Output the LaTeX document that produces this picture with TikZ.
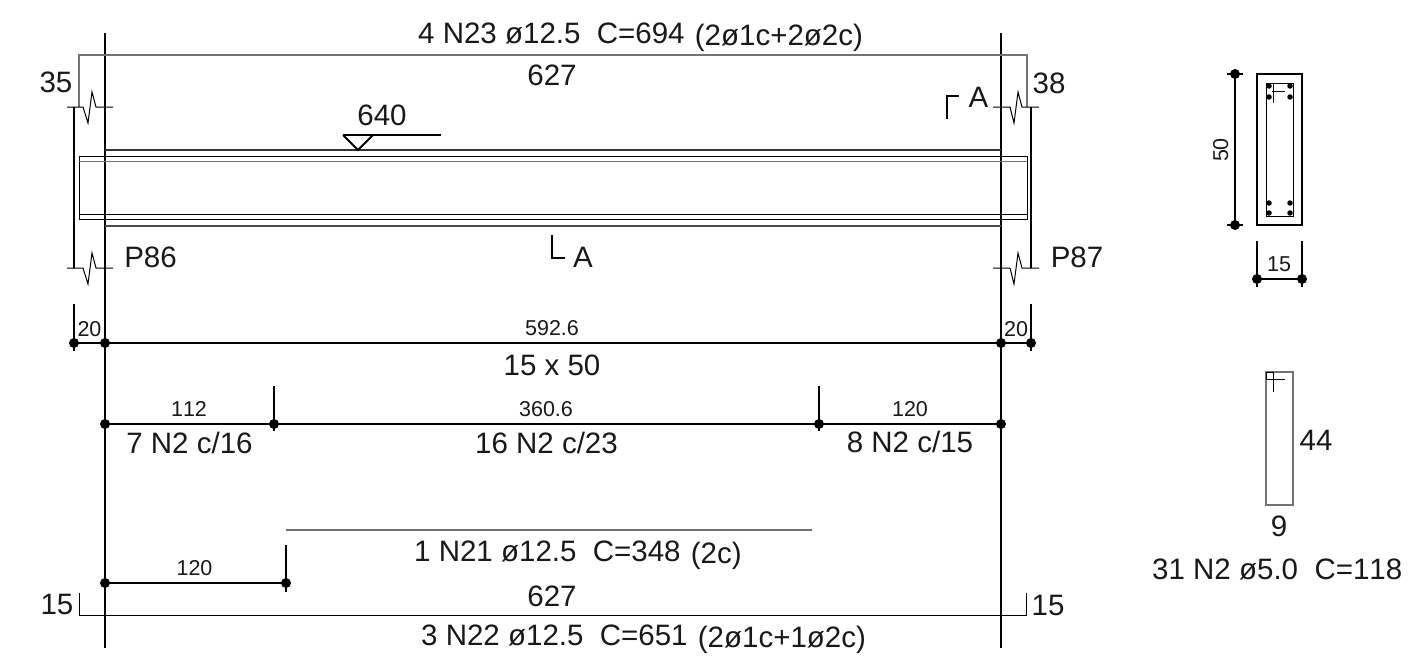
\documentclass[tikz,border=0pt]{standalone}
\usepackage{fontspec}
\setmainfont[Kerning=Off]{Liberation Sans}
\newcommand{\bigf}{\fontsize{29.5}{32}\selectfont}
\newcommand{\smf}{\fontsize{21.5}{24}\selectfont}
\newcommand{\lowpar}[1]{\hspace{2pt}\raisebox{-2pt}{#1}}
\tikzset{
  bk/.style={draw=black,line width=1.6pt},
  thinbk/.style={draw=black,line width=1pt},
  gr/.style={draw=black!55,line width=1.2pt},
  dimpt/.style={circle,fill=black,inner sep=0pt,minimum size=10pt},
  lab/.style={inner sep=0pt,anchor=base,font=\bigf,text=black!90},
  labw/.style={lab,anchor=base west},
  slab/.style={inner sep=0pt,anchor=base,font=\smf,text=black!90}
}
\begin{document}
\begin{tikzpicture}[x=1pt,y=-1pt]
\useasboundingbox (0,0) rectangle (1416,662);
\fill[white] (0,0) rectangle (1416,662);
% column lines
\draw[bk] (105,33) -- (105,648);
\draw[bk] (1001,33) -- (1001,648);
% top bar
\draw[gr] (79,107) -- (79,55) -- (1027,55) -- (1027,107);
% break lines
\draw[thinbk] (67,107) -- (83,107) -- (88,123) -- (92,92) -- (96,107) -- (113,107);
\draw[thinbk] (67,268) -- (83,268) -- (88,284) -- (92,253) -- (96,268) -- (113,268);
\draw[thinbk] (993,107) -- (1010,107) -- (1014,123) -- (1018,92) -- (1022,107) -- (1039,107);
\draw[thinbk] (993,268) -- (1010,268) -- (1014,284) -- (1018,253) -- (1022,268) -- (1039,268);
\draw[bk,line width=1.3pt] (74,107) -- (74,268);
\draw[bk,line width=1.3pt] (1031,107) -- (1031,268);
% beam
\draw[bk,black!80] (105,150) -- (1001,150);
\draw[bk,black!70] (105,226) -- (1001,226);
\draw[thinbk] (79,156) rectangle (1027,219);
\draw[gr,line width=1pt] (79,161) -- (1027,161);
\draw[thinbk] (79,214) -- (1027,214);
% level mark
\draw[bk,line width=2pt] (343,135) -- (441,135);
\draw[bk,line width=2pt] (343,135) -- (358,150) -- (373,135);
% section marks
\draw[bk,line width=2pt] (947,119) -- (947,96) -- (959,96);
\draw[bk,line width=2pt] (552,235) -- (552,258) -- (565,258);
% overall dimension
\coordinate (d0) at (74,343);
\coordinate (d1) at (105,343);
\coordinate (d2) at (1001,343);
\coordinate (d3) at (1031,343);
\draw[bk] (74,304) -- (74,351);
\draw[bk] (1031,304) -- (1031,351);
\draw[bk] (d0) -- (d3);
\foreach \p in {d0,d1,d2,d3} \node[dimpt] at (\p) {};
% stirrup dimension
\coordinate (s0) at (105,424);
\coordinate (s1) at (274,424);
\coordinate (s2) at (819,424);
\coordinate (s3) at (1001,424);
\draw[bk] (274,386) -- (274,431);
\draw[bk] (819,386) -- (819,431);
\draw[bk] (s0) -- (s3);
\foreach \p in {s0,s1,s2,s3} \node[dimpt] at (\p) {};
% N21
\draw[gr] (286,530) -- (812,530);
\coordinate (b0) at (105,583);
\coordinate (b1) at (286,583);
\draw[bk] (286,545) -- (286,592);
\draw[bk] (b0) -- (b1);
\foreach \p in {b0,b1} \node[dimpt] at (\p) {};
% bottom bar
\draw[thinbk] (79,593) -- (79,615) -- (1026,615) -- (1026,593);
% section
\draw[bk] (1257,74) rectangle (1302,225);
\draw[thinbk] (1266,83) rectangle (1293,216);
\draw[thinbk] (1272,91) -- (1285,91);
\draw[thinbk] (1273,83) -- (1273,103);
\foreach \yy in {86,97,203,213} \foreach \xx in {1269,1290}
  \node[circle,fill=black,inner sep=0pt,minimum size=5.5pt] at (\xx,\yy) {};
\coordinate (v0) at (1235,74);
\coordinate (v1) at (1235,225);
\draw[bk] (v0) -- (v1);
\draw[bk] (1227,74) -- (1243,74);
\draw[bk] (1227,225) -- (1243,225);
\foreach \p in {v0,v1} \node[dimpt] at (\p) {};
\coordinate (h0) at (1257,279);
\coordinate (h1) at (1302,279);
\draw[bk] (1257,241) -- (1257,287);
\draw[bk] (1302,241) -- (1302,287);
\draw[bk] (h0) -- (h1);
\foreach \p in {h0,h1} \node[dimpt] at (\p) {};
% stirrup
\draw[gr] (1266,372) rectangle (1293,505);
\draw[thinbk] (1266,372) rectangle (1273,379);
\draw[thinbk] (1266,379) -- (1285,379);
\draw[thinbk] (1273,372) -- (1273,392);
% texts
\node[labw] (t1) at (418,43) {4 N23 ø12.5\ \ C=694 \lowpar{(2ø1c+2ø2c)}};
\node[lab] (t2) at (552,85) {627};
\node[lab] (t3) at (56,92) {35};
\node[lab] (t4) at (1049,93) {38};
\node[lab] (t5) at (382,125) {640};
\node[lab] (t6) at (978.5,107) {A};
\node[lab] (t7) at (583,267) {A};
\node[lab] (t8) at (150.5,267) {P86};
\node[lab] (t9) at (1077,267) {P87};
\node[slab] (t10) at (89.5,336) {20};
\node[slab] (t11) at (552,335) {592.6};
\node[slab] (t12) at (1016,336) {20};
\node[lab] (t13) at (552,375) {15 x 50};
\node[slab] (t14) at (189,416) {112};
\node[slab] (t15) at (546,416) {360.6};
\node[slab] (t16) at (910,416) {120};
\node[lab] (t17) at (189.5,453) {7 N2 c/16};
\node[lab] (t18) at (546.5,453) {16 N2 c/23};
\node[lab] (t19) at (910,452) {8 N2 c/15};
\node[labw] (t20) at (414,561) {1 N21 ø12.5\ \ C=348 \lowpar{(2c)}};
\node[slab] (t21) at (194.5,575) {120};
\node[lab] (t22) at (552,606) {627};
\node[lab] (t23) at (57,614) {15};
\node[lab] (t24) at (1048,615) {15};
\node[labw] (t25) at (421,645) {3 N22 ø12.5\ \ C=651 \lowpar{(2ø1c+1ø2c)}};
\node[slab,rotate=90] (t26) at (1228,150) {50};
\node[slab] (t27) at (1279,271) {15};
\node[lab] (t28) at (1316,450) {44};
\node[lab] (t29) at (1279,536) {9};
\node[labw] (t30) at (1152,579) {31 N2 ø5.0\ \ C=118};
\end{tikzpicture}
\end{document}
